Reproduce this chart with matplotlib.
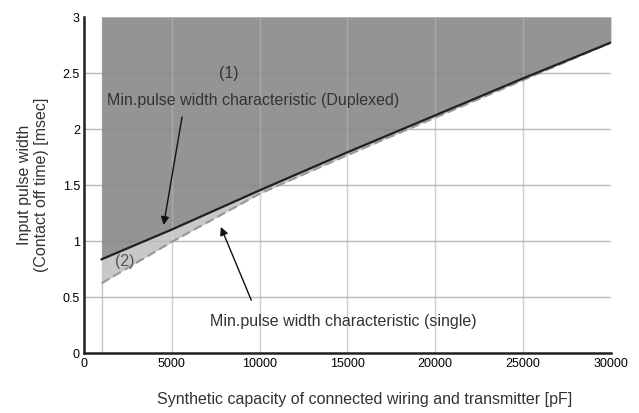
import matplotlib.pyplot as plt

# capacity [pF] and min. pulse width [msec]
cap = [1000, 5000, 10000, 15000, 20000, 25000, 30000]
duplexed = [0.834, 1.10, 1.45, 1.79, 2.12, 2.45, 2.77]
single = [0.62, 0.99, 1.42, 1.765, 2.10, 2.435, 2.77]

x_ticks = [0, 5000, 10000, 15000, 20000, 25000, 30000]
y_ticks = [0, 0.5, 1, 1.5, 2, 2.5, 3]
y_tick_labels = ['0', '0.5', '1', '1.5', '2', '2.5', '3']

plt.rcParams['font.family'] = ['Liberation Sans', 'DejaVu Sans']
txt = '#333333'

fig = plt.figure(figsize=(6.39, 4.14), dpi=100)
ax = fig.add_axes([0.1315, 0.1457, 0.8245, 0.8113])

# grid (under the fills)
vgrid = [1000, 5000, 10000, 15000, 20000, 25000]
hgrid = [0.5, 1, 1.5, 2, 2.5]
for gx in vgrid:
    ax.plot([gx, gx], [0, 3], color='#c4c4c4', lw=1, zorder=1)
for gy in hgrid:
    ax.plot([0, 30000], [gy, gy], color='#c4c4c4', lw=1, zorder=1)

ax.fill_between(cap, duplexed, 3, color='#949494', lw=0, zorder=2)
ax.fill_between(cap, single, duplexed, color='#c8c8c8', lw=0, zorder=2)

# grid showing faintly through the shaded area
for gx in vgrid[1:]:
    ax.plot([gx, gx], [0, 3], color='white', alpha=0.2, lw=1, zorder=2.5)
for gy in hgrid:
    ax.plot([0, 30000], [gy, gy], color='black', alpha=0.06, lw=1, zorder=2.5)

ax.plot(cap, single, color='#9a9a9a', lw=1.6, dashes=(4, 2), zorder=3)
ax.plot(cap, duplexed, color='#231f20', lw=1.6, zorder=4)

ax.set_xlim(0, 30000)
ax.set_ylim(0, 3)
ax.set_xticks(x_ticks)
ax.set_xticklabels([str(v) for v in x_ticks])
ax.set_yticks(y_ticks)
ax.set_yticklabels(y_tick_labels)
ax.tick_params(length=0, labelsize=9, colors='black', pad=3)

for s in ['top', 'right']:
    ax.spines[s].set_visible(False)
for s in ['left', 'bottom']:
    ax.spines[s].set_linewidth(1.8)
    ax.spines[s].set_color('#231f20')

ax.text(8240, 2.5, '(1)', fontsize=11.5, color=txt, ha='center', va='center', zorder=5)
ax.text(2330, 0.82, '(2)', fontsize=11.5, color='#555555', ha='center', va='center', zorder=5)
ax.text(1300, 2.265, 'Min.pulse width characteristic (Duplexed)', fontsize=11.5,
        color=txt, ha='left', va='center', zorder=5)
ax.text(7160, 0.283, 'Min.pulse width characteristic (single)', fontsize=11.5,
        color=txt, ha='left', va='center', zorder=5)

ax.annotate('', xy=(4506, 1.116), xytext=(5608, 2.13),
            arrowprops=dict(arrowstyle='-|>', color='#111111', lw=1, mutation_scale=12), zorder=5)
ax.annotate('', xy=(7727, 1.146), xytext=(9585, 0.446),
            arrowprops=dict(arrowstyle='-|>', color='#111111', lw=1, mutation_scale=12), zorder=5)

fig.text(365 / 639, 1 - 400 / 414, 'Synthetic capacity of connected wiring and transmitter [pF]',
         fontsize=11.5, color=txt, ha='center', va='center')
fig.text(33 / 639, 1 - 185 / 414, 'Input pulse width\n(Contact off time) [msec]',
         fontsize=11.5, color=txt, ha='center', va='center', rotation=90, linespacing=1.2)

fig.savefig('out.png', dpi=100)
